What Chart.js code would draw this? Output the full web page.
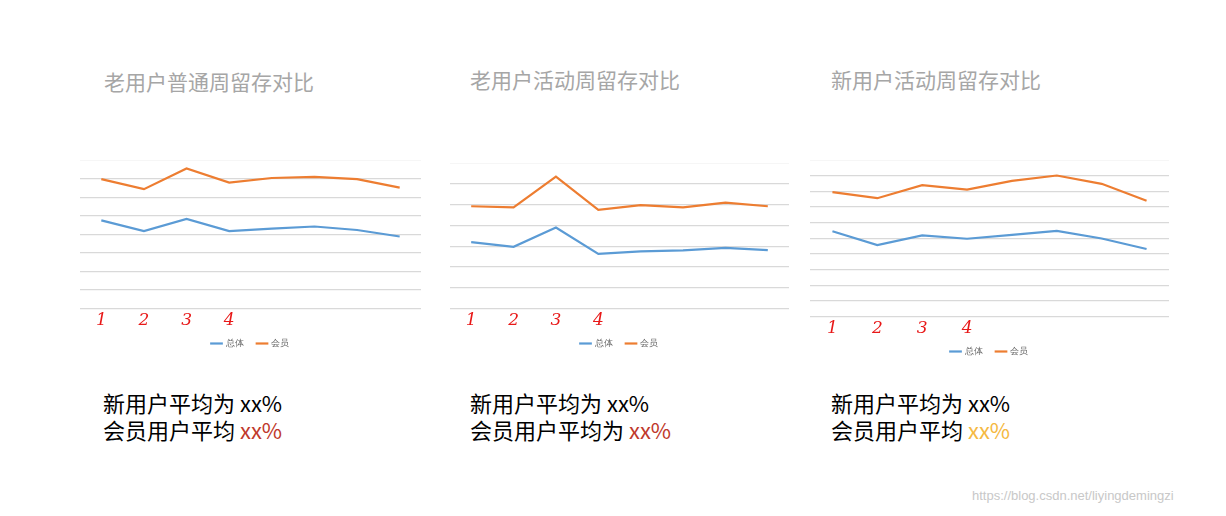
<!DOCTYPE html>
<html><head><meta charset="utf-8">
<script src="https://cdn.jsdelivr.net/npm/chart.js@4"></script>
<style>
body{margin:0;width:1226px;height:516px;background:#fff;position:relative;font-family:"Noto Sans CJK SC",sans-serif;overflow:hidden}
.t{position:absolute;color:#a6a6a6;font-size:21px}
.s{position:absolute;color:#000;font-size:22px;line-height:27px}
.c{position:absolute}
</style></head><body>
<script>
const categories=["1","2","3","4","","","",""];
const seriesNames=["总体","会员"];
const c1Total=[4.75,4.17,4.83,4.17,4.31,4.42,4.23,3.88];
const c1Member=[6.97,6.43,7.54,6.78,7.03,7.09,6.97,6.51];
const c2Total=[3.2,2.97,3.9,2.63,2.75,2.8,2.92,2.81];
const c2Member=[4.92,4.87,6.35,4.75,4.97,4.87,5.09,4.92];
const c3Total=[5.45,4.57,5.19,4.97,5.22,5.47,4.99,4.32];
const c3Member=[7.95,7.56,8.39,8.11,8.67,9.01,8.48,7.4];
const titles=["老用户普通周留存对比","老用户活动周留存对比","新用户活动周留存对比"];
</script>
<div class="t" style="left:104px;top:66px">老用户普通周留存对比</div>
<div class="t" style="left:470px;top:64px">老用户活动周留存对比</div>
<div class="t" style="left:831px;top:64px">新用户活动周留存对比</div>
<div class="s" style="left:103px;top:389px">新用户平均为 xx%<br>会员用户平均 <span style="color:#c0392b">xx%</span></div>
<div class="s" style="left:470px;top:389px">新用户平均为 xx%<br>会员用户平均为 <span style="color:#c0392b">xx%</span></div>
<div class="s" style="left:831px;top:389px">新用户平均为 xx%<br>会员用户平均 <span style="color:#f5b942">xx%</span></div>
<div style="position:absolute;left:972px;top:488px;color:#c8c8c8;font-size:13px;font-family:Arial">https://blog.csdn.net/liyingdemingzi</div>
<div class="c" style="left:80px;top:160px;width:341px;height:198px"><canvas id="a"></canvas></div>
<div class="c" style="left:450px;top:163px;width:339px;height:195px"><canvas id="b"></canvas></div>
<div class="c" style="left:810px;top:160px;width:359px;height:206px"><canvas id="c"></canvas></div>
<script>
function mk(id,tot,mem,max,off){
  const ctx=document.getElementById(id);
  ctx.parentElement.style.height=ctx.parentElement.style.height;
  new Chart(ctx,{type:'line',data:{labels:categories,datasets:[
    {label:seriesNames[0],data:tot,borderColor:'#5b9bd5',backgroundColor:'#5b9bd5',borderWidth:2.2,pointRadius:0,tension:0},
    {label:seriesNames[1],data:mem,borderColor:'#ed7d31',backgroundColor:'#ed7d31',borderWidth:2.2,pointRadius:0,tension:0}]},
  options:{responsive:true,maintainAspectRatio:false,animation:false,
    layout:{padding:{top:0,bottom:0,left:0,right:0}},
    plugins:{tooltip:{enabled:false},legend:{position:'bottom',labels:{usePointStyle:true,pointStyle:'line',boxWidth:22,color:'#666',font:{size:9},padding:off}}},
    scales:{y:{min:0,max:max,ticks:{display:false,stepSize:1},grid:{color:'#d9d9d9',lineWidth:1.3,drawTicks:false},border:{display:false}},
      x:{offset:true,grid:{display:false},border:{display:false},ticks:{color:'#e81818',font:{size:17,family:'DejaVu Serif',style:'italic'},padding:-6,maxRotation:0}}}}});
}
mk('a',c1Total,c1Member,8,14);
mk('b',c2Total,c2Member,7,14);
mk('c',c3Total,c3Member,10,14);
</script>
</body></html>
